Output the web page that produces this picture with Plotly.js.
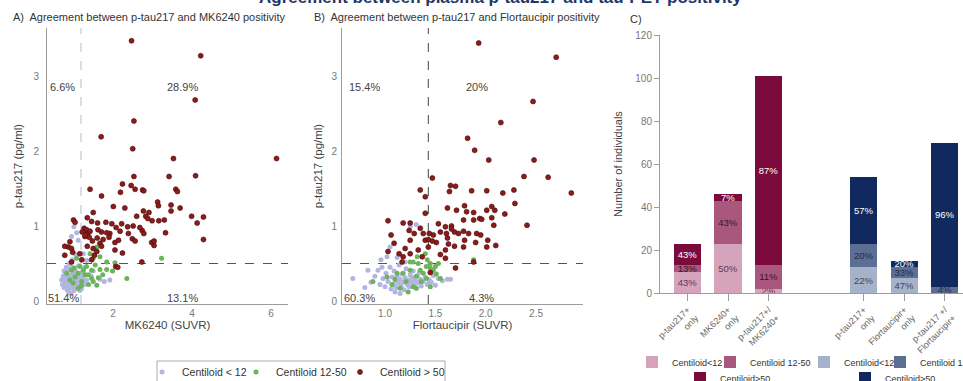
<!DOCTYPE html>
<html>
<head>
<meta charset="utf-8">
<script src="https://cdn.plot.ly/plotly-3.0.1.min.js"></script>
<style>html,body{margin:0;padding:0;background:#fff;}#chart{width:963px;height:381px;}</style>
</head>
<body>
<div id="chart"></div>
<script>
// ---------- Panel A: p-tau217 vs MK6240 ----------
const mkLowX = [0.70,0.72,0.74,0.76,0.78,0.79,0.80,0.81,0.83,0.84,0.85,0.86,0.87,0.88,0.89,0.90,0.91,0.92,0.93,0.94,0.95,0.96,0.97,0.98,0.99,1.00,1.01,1.02,1.03,1.04,1.05,1.06,1.07,1.08,1.09,1.10,1.11,1.12,1.13,1.14,1.15,1.17,1.18,1.20,1.22,1.24,1.26,1.28,1.30,1.33,0.82,0.90,0.98,1.05,1.01,1.08,0.95,1.12,1.25,1.33,1.67,1.92,1.78,1.45,1.50,0.88,0.94,1.16,1.20,0.76];
const mkLowY = [0.28,0.22,0.33,0.18,0.27,0.38,0.21,0.31,0.25,0.15,0.35,0.28,0.20,0.42,0.30,0.24,0.17,0.34,0.27,0.22,0.45,0.31,0.19,0.26,0.37,0.23,0.29,0.14,0.33,0.21,0.40,0.26,0.18,0.30,0.24,0.36,0.20,0.28,0.47,0.23,0.32,0.19,0.27,0.38,0.24,0.31,0.44,0.22,0.35,0.28,0.45,0.50,0.55,0.62,0.99,0.91,0.86,0.81,0.63,0.54,0.29,0.28,0.26,0.33,0.40,0.12,0.10,0.14,0.16,0.40];
const mkMidX = [3.23,2.35,1.84,1.99,1.74,1.63,1.50,1.38,1.59,1.29,1.46,1.33,1.59,1.42,1.50,1.67,1.84,2.05,1.12,1.04,0.91,0.99,1.12,0.83,1.21,1.25,1.16,1.08,0.95,1.38,1.67,1.46,1.55,1.20,1.02];
const mkMidY = [0.57,0.30,0.42,0.40,0.35,0.31,0.26,0.22,0.21,0.35,0.41,0.46,0.72,0.63,0.57,0.59,0.52,0.51,0.37,0.32,0.28,0.24,0.17,0.37,0.26,0.41,0.46,0.57,0.41,0.35,0.42,0.30,0.48,0.20,0.44];
const mkHighX = [2.47,4.22,4.08,2.53,1.70,2.50,3.53,6.14,2.53,3.42,4.09,1.42,1.71,2.24,2.19,2.46,2.56,2.75,2.78,3.59,3.63,3.13,3.15,3.47,3.47,3.70,2.01,2.30,1.50,2.77,2.91,2.83,2.88,2.99,3.16,3.30,2.60,3.99,4.13,4.29,4.29,3.33,2.98,3.04,3.04,2.74,2.78,2.68,2.51,2.37,2.39,2.49,2.56,2.22,2.18,2.08,1.97,1.92,1.84,1.71,1.82,1.61,1.46,1.35,1.27,1.36,1.29,1.40,1.48,1.35,1.67,1.71,2.05,2.05,2.24,2.14,2.73,1.00,1.04,0.91,0.87,0.95,0.98,0.78,0.78,1.16,1.21,1.53,1.59,1.46,2.07,2.12,0.95,1.30,1.33,1.42,1.22,1.50,1.60,1.90,1.62,1.75];
const mkHighY = [3.47,3.27,2.68,2.40,2.19,2.03,1.90,1.90,1.66,1.66,1.67,1.49,1.40,1.56,1.45,1.54,1.49,1.48,1.47,1.49,1.46,1.32,1.27,1.28,1.20,1.24,1.26,1.24,1.18,1.20,1.18,1.13,1.10,1.07,1.07,1.08,1.13,1.13,1.04,1.12,0.82,0.91,0.78,0.74,0.80,0.94,0.90,0.98,1.00,0.99,0.90,0.83,0.80,1.03,0.93,0.98,1.03,0.90,0.91,0.92,1.05,1.04,1.06,1.11,0.97,0.90,0.86,0.85,0.80,0.73,0.77,0.73,0.78,0.68,0.64,0.81,0.52,1.08,1.05,0.79,0.72,0.70,0.65,0.73,0.61,0.63,0.55,0.61,0.66,0.55,0.46,0.45,0.52,0.88,0.95,0.93,0.92,0.70,0.84,0.85,0.95,0.82];
const mkThreshold = 1.19;
const mkQuadLabels = ['6.6%','28.9%','51.4%','13.1%'];
const mkQuadX = [0.72,3.75,0.76,3.75];

// ---------- Panel B: p-tau217 vs Flortaucipir ----------
const ftLowX = [0.68,0.80,0.83,0.86,0.90,0.93,0.95,0.96,0.98,1.00,1.01,1.02,1.03,1.05,1.06,1.07,1.08,1.09,1.10,1.11,1.12,1.13,1.14,1.15,1.16,1.17,1.18,1.19,1.20,1.21,1.22,1.23,1.24,1.25,1.26,1.27,1.28,1.29,1.30,1.31,1.32,1.33,1.34,1.35,1.36,1.38,1.40,1.42,1.44,1.46,1.48,1.50,1.53,1.57,1.62,1.65,1.25,1.31,1.12,1.05,1.20,0.97,1.10,1.15];
const ftLowY = [0.30,0.18,0.41,0.25,0.33,0.41,0.22,0.55,0.30,0.19,0.37,0.59,0.26,0.45,0.16,0.32,0.22,0.40,0.27,0.18,0.34,0.24,0.48,0.29,0.20,0.36,0.25,0.15,0.31,0.43,0.22,0.28,0.19,0.35,0.25,0.31,0.40,0.21,0.27,0.17,0.33,0.24,0.38,0.29,0.20,0.26,0.32,0.22,0.28,0.25,0.34,0.21,0.30,0.27,0.29,0.29,0.99,1.02,0.58,0.72,0.52,0.45,0.12,0.10];
const ftMidX = [0.88,1.02,1.10,1.15,1.18,1.21,1.25,1.28,1.31,1.35,1.36,1.38,1.41,1.42,1.41,1.45,1.48,1.51,1.53,1.45,1.31,1.23,1.33,1.28,1.55,1.12,1.07,1.88,1.40,1.32,1.25,1.45,1.50];
const ftMidY = [0.26,0.32,0.29,0.17,0.37,0.26,0.41,0.19,0.33,0.41,0.26,0.37,0.46,0.55,0.30,0.44,0.41,0.36,0.50,0.19,0.17,0.12,0.50,0.52,0.30,0.37,0.22,0.55,0.63,0.59,0.52,0.50,0.46];
const ftHighX = [1.93,2.70,2.47,2.15,1.82,1.89,2.03,2.48,1.47,2.38,2.62,2.85,1.35,1.40,1.65,1.70,1.64,1.86,2.01,2.17,2.28,2.29,2.19,1.40,1.62,1.71,1.79,1.81,1.88,1.94,1.96,2.01,2.06,2.09,2.06,2.08,1.88,1.78,2.41,1.03,1.18,1.25,1.06,1.09,1.03,1.14,1.20,1.18,1.24,1.25,1.29,1.35,1.38,1.40,1.43,1.44,1.48,1.33,1.43,1.37,1.53,1.55,1.60,1.61,1.62,1.66,1.69,1.73,1.63,1.69,1.60,1.55,1.51,1.78,1.83,1.91,1.95,1.90,2.02,2.01,1.79,1.78,2.10,1.60,1.70,1.88,1.45,1.25,1.17,1.47,1.66];
const ftHighY = [3.44,3.25,2.66,2.38,2.17,2.01,1.88,1.88,1.64,1.66,1.65,1.44,1.48,1.39,1.54,1.53,1.46,1.47,1.47,1.44,1.48,1.30,1.16,1.17,1.24,1.21,1.27,1.19,1.18,1.10,1.09,1.21,1.26,1.21,1.11,1.01,1.08,1.08,1.01,1.07,1.04,1.04,0.88,0.77,0.66,0.63,0.70,0.59,0.94,0.81,0.90,0.97,0.90,0.81,0.82,0.90,0.88,0.68,0.72,0.59,1.03,0.92,0.99,0.90,0.84,1.00,0.92,0.90,0.76,0.73,0.68,0.62,0.78,0.93,0.90,0.90,0.88,0.78,0.81,0.72,0.81,0.72,0.74,0.57,0.44,0.52,0.38,0.63,0.52,0.80,0.96];
const ftThreshold = 1.43;
const ftQuadLabels = ['15.4%','20%','60.3%','4.3%'];
const ftQuadX = [0.80,1.91,0.75,1.96];
const quadY = [2.85,2.85,0.04,0.04];
const ptauThreshold = 0.5;

// ---------- Panel C: counts by Centiloid group ----------
const barPos = [0, 1, 2, 4.35, 5.35, 6.35];
const barLabels = ['p-tau217+<br>only','MK6240+<br>only','p-tau217+/<br>MK6240+','p-tau217+<br>only','Flortaucipir+<br>only','p-tau217 +/<br>Flortaucipir+'];
const mkPos = barPos.slice(0,3), ftPos = barPos.slice(3);
const mkCl12   = [10, 23, 2];
const mkCl1250 = [3, 20, 11];
const mkCl50   = [10, 3, 88];
const ftCl12   = [12, 7, 0];
const ftCl1250 = [11, 5, 3];
const ftCl50   = [31, 3, 67];

const FONT = 'Liberation Sans, Arial, Helvetica, sans-serif';
const LAV = '#b1b5df', GRN = '#6cb35b', RED = '#8c1c1c';
const MK = ['#d6a3bc','#a9577d','#7b0b3d'];
const FT = ['#a6b2c9','#5b6f95','#11295e'];

function pct(vals, totals){ return vals.map((v,i)=> v>0 ? Math.round(v/totals[i]*100)+'%' : ''); }
const mkTot = mkCl12.map((v,i)=>v+mkCl1250[i]+mkCl50[i]);
const ftTot = ftCl12.map((v,i)=>v+ftCl1250[i]+ftCl50[i]);

function sc(x,y,color,name,xa,ya,leg,show){
  return {type:'scatter',mode:'markers',x:x,y:y,xaxis:xa,yaxis:ya,name:name,legend:leg,showlegend:show,
    marker:{color:color,size:5,line:{width:color===RED?0.6:0,color:'#4a0a0a'}},hoverinfo:'skip'};
}
function bar(x,y,txt,color,tcolor,name,leg){
  return {type:'bar',x:x,y:y,text:txt,textposition:'inside',insidetextanchor:'middle',constraintext:'none',textangle:0,
    textfont:{family:FONT,size:9.5,color:tcolor},marker:{color:color,line:{width:0}},width:0.67,
    xaxis:'x3',yaxis:'y3',name:name,legend:leg,hoverinfo:'skip'};
}

const data = [
  sc(mkLowX,mkLowY,LAV,'Centiloid < 12','x','y','legend',true),
  sc(mkMidX,mkMidY,GRN,'Centiloid 12-50','x','y','legend2',true),
  sc(mkHighX,mkHighY,RED,'Centiloid > 50','x','y','legend3',true),
  sc(ftLowX,ftLowY,LAV,'Centiloid < 12','x2','y2','legend',false),
  sc(ftMidX,ftMidY,GRN,'Centiloid 12-50','x2','y2','legend2',false),
  sc(ftHighX,ftHighY,RED,'Centiloid > 50','x2','y2','legend3',false),
  bar(mkPos,mkCl12,pct(mkCl12,mkTot),MK[0],'#5e3a4c','Centiloid<12','legend4'),
  bar(mkPos,mkCl1250,pct(mkCl1250,mkTot),MK[1],'#3c1526','Centiloid 12-50','legend5'),
  bar(mkPos,mkCl50,pct(mkCl50,mkTot),MK[2],'#ffffff','Centiloid>50','legend6'),
  bar(ftPos,ftCl12,pct(ftCl12,ftTot),FT[0],'#3b4660','Centiloid<12','legend7'),
  bar(ftPos,ftCl1250,pct(ftCl1250,ftTot),FT[1],'#222d48','Centiloid 12-50','legend8'),
  bar(ftPos,ftCl50,pct(ftCl50,ftTot),FT[2],'#ffffff','Centiloid>50','legend9')
];

const W = 963, H = 381;
const px = v => v / W, py = v => 1 - v / H;
const tickF = {family:FONT,size:10,color:'#777'};
const base = {showgrid:false,zeroline:false,showline:true,linecolor:'#9c9c9c',linewidth:1,tickfont:tickF,automargin:false,fixedrange:true};
const titleF = {family:FONT,size:11.5,color:'#444'};

// legend placed by the x pixel of its symbol centre
function leg(xSym, yc, size){
  return {x:px(xSym-20),xanchor:'left',y:py(yc),yanchor:'middle',orientation:'h',bgcolor:'rgba(0,0,0,0)',borderwidth:0,
    font:{family:FONT,size:size,color:'#333'},itemclick:false,itemdoubleclick:false};
}

const quadAnn = [];
mkQuadLabels.forEach((t,i)=>quadAnn.push({text:t,x:mkQuadX[i],y:quadY[i],xref:'x',yref:'y',showarrow:false,font:{family:FONT,size:11,color:'#444'}}));
ftQuadLabels.forEach((t,i)=>quadAnn.push({text:t,x:ftQuadX[i],y:quadY[i],xref:'x2',yref:'y2',showarrow:false,font:{family:FONT,size:11,color:'#444'}}));

const layout = {
  width:W,height:H,margin:{l:0,r:0,t:0,b:0,autoexpand:false},paper_bgcolor:'#fff',plot_bgcolor:'rgba(0,0,0,0)',
  font:{family:FONT},barmode:'stack',showlegend:true,
  xaxis:{...base,domain:[px(47),px(288)],range:[0.33,6.43],tickvals:[2,4,6],anchor:'y',
    title:{text:'MK6240 (SUVR)',font:titleF,standoff:1}},
  yaxis:{...base,domain:[py(304),py(28)],range:[-0.04,3.64],tickvals:[0,1,2,3],anchor:'x',ticklabelstandoff:5,
    title:{text:'p-tau217 (pg/ml)',font:titleF,standoff:8}},
  xaxis2:{...base,domain:[px(342),px(583)],range:[0.573,2.966],tickvals:[1.0,1.5,2.0,2.5],tickformat:'.1f',anchor:'y2',
    title:{text:'Flortaucipir (SUVR)',font:titleF,standoff:1}},
  yaxis2:{...base,domain:[py(304),py(28)],range:[-0.04,3.64],tickvals:[0,1,2,3],anchor:'x2',ticklabelstandoff:2,
    title:{text:'p-tau217 (pg/ml)',font:titleF,standoff:6}},
  xaxis3:{...base,domain:[px(660),1],range:[-0.68,6.8],tickvals:barPos,ticktext:barLabels,tickangle:-45,anchor:'y3',
    ticks:'outside',ticklen:7,tickcolor:'#9c9c9c',tickfont:{family:FONT,size:9,color:'#666'}},
  yaxis3:{...base,domain:[py(293),py(35)],range:[0,120],tickvals:[0,20,40,60,80,100,120],anchor:'x3',
    ticks:'outside',ticklen:5,tickcolor:'#9c9c9c',
    title:{text:'Number of individuals',font:{family:FONT,size:11,color:'#444'},standoff:10}},
  shapes:[
    {type:'line',xref:'x',yref:'y domain',x0:mkThreshold,x1:mkThreshold,y0:0,y1:1,line:{color:'#b4bccb',width:1,dash:'dash'},layer:'below'},
    {type:'line',xref:'x domain',yref:'y',x0:0,x1:1,y0:ptauThreshold,y1:ptauThreshold,line:{color:'#555',width:1,dash:'dash'},layer:'below'},
    {type:'line',xref:'x2',yref:'y2 domain',x0:ftThreshold,x1:ftThreshold,y0:0,y1:1,line:{color:'#444',width:1,dash:'dash'},layer:'below'},
    {type:'line',xref:'x2 domain',yref:'y2',x0:0,x1:1,y0:ptauThreshold,y1:ptauThreshold,line:{color:'#555',width:1,dash:'dash'},layer:'below'},
    {type:'rect',xref:'paper',yref:'paper',x0:px(157),x1:px(445),y0:py(382),y1:py(361),line:{color:'#aaa',width:1},fillcolor:'rgba(0,0,0,0)'}
  ],
  annotations:[
    {text:'Agreement between plasma p-tau217 and tau-PET positivity',xref:'paper',yref:'paper',x:px(500),y:py(9),xanchor:'center',yanchor:'bottom',showarrow:false,
      font:{family:FONT,size:17,color:'#1f3768',weight:'bold'}},
    {text:'A)\u00a0 Agreement between p-tau217 and MK6240 positivity',xref:'paper',yref:'paper',x:px(11),y:py(17),xanchor:'left',yanchor:'middle',showarrow:false,font:{family:FONT,size:11,color:'#333'}},
    {text:'B)\u00a0 Agreement between p-tau217 and Flortaucipir positivity',xref:'paper',yref:'paper',x:px(312),y:py(17),xanchor:'left',yanchor:'middle',showarrow:false,font:{family:FONT,size:11,color:'#333'}},
    {text:'C)',xref:'paper',yref:'paper',x:px(628),y:py(19),xanchor:'left',yanchor:'middle',showarrow:false,font:{family:FONT,size:11,color:'#333'}},
    ...quadAnn
  ],
  legend:leg(162,372,10.5), legend2:leg(256,372,10.5), legend3:leg(360,372,10.5),
  legend4:leg(652,362,9), legend5:leg(730,362,9), legend6:leg(700,378,9),
  legend7:leg(824,362,9), legend8:leg(900,362,9), legend9:leg(865,378,9)
};

Plotly.newPlot('chart', data, layout, {staticPlot:true, displayModeBar:false});
</script>
</body>
</html>
